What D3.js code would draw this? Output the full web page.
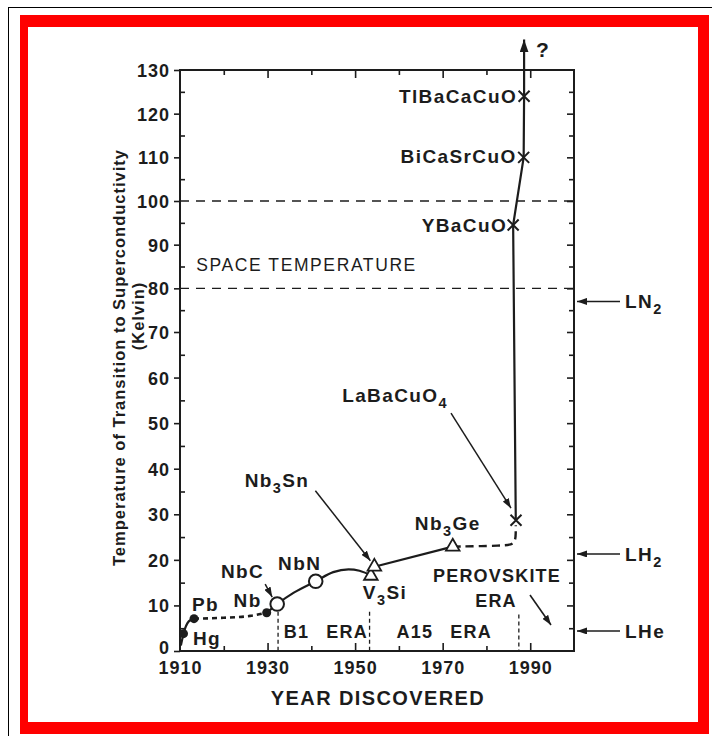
<!DOCTYPE html>
<html>
<head>
<meta charset="utf-8">
<script src="https://cdn.jsdelivr.net/npm/d3@7"></script>
<style>
  html, body { margin: 0; padding: 0; background: #fff; }
  svg { display: block; }
</style>
</head>
<body>
<svg id="chart" width="712" height="736"></svg>
<script>
// ---- Record superconductors: year of discovery and transition temperature (K)
const materials  = ["Hg", "Pb", "Nb", "NbC", "NbN", "V3Si", "Nb3Sn", "Nb3Ge", "LaBaCuO4", "YBaCuO", "BiCaSrCuO", "TlBaCaCuO"];
const yearFound  = [1910.8, 1913.2, 1929.8, 1932.2, 1941, 1953.6, 1954.4, 1972.3, 1986.75, 1986.1, 1988.5, 1988.6];
const tcKelvin   = [3.8, 7.1, 8.4, 10.3, 15.3, 16.5, 18.5, 22.9, 28.7, 94.5, 110, 124];
const markerKind = ["dot", "dot", "dot", "ring", "ring", "triangle", "triangle", "triangle", "cross", "cross", "cross", "cross"];

// ---- Trend of the record temperature: [year, K]
const trendMetals   = [[1910.2, 1.2], [1910.8, 3.8], [1912, 6.5], [1913.2, 7.1]];
const trendGapEarly = [[1913.2, 7.1], [1920, 7.3], [1926, 7.7], [1929.8, 8.4]];
const trendB1       = [[1929.8, 8.4], [1932.2, 10.3], [1936, 12.8], [1941, 15.3], [1945, 17.3], [1948.5, 17.9], [1951, 17.6], [1953.6, 16.6]];
const trendA15      = [[1954.4, 18.5], [1972.3, 22.9]];
const trendGapLate  = [[1972.3, 22.9], [1984, 23.1], [1986.6, 23.4], [1986.7, 26], [1986.7, 27.6]];
const trendCuprates = [[1986.7, 28.7], [1986.1, 94.5], [1988.5, 110], [1988.6, 124], [1988.6, 137]];

// ---- Reference temperatures
const spaceBand  = [80, 100];
const coolants   = ["LN2", "LH2", "LHe"];
const coolantK   = [77, 21.3, 4.4];

// ---- Eras of superconducting materials
const eraNames   = ["B1 ERA", "A15 ERA"];
const eraBounds  = [1932.4, 1953.3, 1987.4];
const eraTopK    = [8.6, 8.6, 8];

// ---- Axis ticks
const yLabelTicks = d3.range(0, 131, 10);
const yMinorTicks = d3.range(5, 130, 10);
const yRightTicks = d3.range(5, 130, 5);
const xLabelTicks = [1910, 1930, 1950, 1970, 1990];
const xTicks      = d3.range(1920, 2000, 10);

// ---------------------------------------------------------------
const ink  = "#1c1c1c";
const FONT = "'Liberation Sans', Arial, Helvetica, sans-serif";
const svg  = d3.select("#chart");
const defs = svg.append("defs");

// page frame
svg.append("rect").attr("x", 8.5).attr("y", 7.5).attr("width", 720).attr("height", 740)
  .attr("fill", "#fff").attr("stroke", "#000").attr("stroke-width", 1);
svg.append("rect").attr("x", 20).attr("y", 15).attr("width", 689).attr("height", 719).attr("fill", "#ff0000");
svg.append("rect").attr("x", 28).attr("y", 27).attr("width", 670).attr("height", 695).attr("fill", "#fff");

const plot = { left: 180, right: 574, top: 70, bottom: 651 };
const x = d3.scaleLinear().domain([1910, 2000]).range([plot.left, plot.right]);
// the printed temperature axis is stretched slightly below 70 K
const y = d3.scaleLinear().domain([0, 70, 130]).range([plot.bottom, 332, plot.top]);

function arrowMarker(id, len, wid) {
  defs.append("marker").attr("id", id)
    .attr("viewBox", `0 0 ${len} ${wid}`)
    .attr("refX", len).attr("refY", wid / 2)
    .attr("markerWidth", len).attr("markerHeight", wid)
    .attr("markerUnits", "userSpaceOnUse").attr("orient", "auto")
    .append("path").attr("d", `M0,0L${len},${wid / 2}L0,${wid}Z`).attr("fill", ink);
}
arrowMarker("headSmall", 10, 7);
arrowMarker("headBig", 13, 9);

function styleAxis(g) {
  g.select(".domain").remove();
  g.selectAll(".tick line").attr("stroke", ink).attr("stroke-width", 1.6);
  g.selectAll(".tick text").attr("fill", ink).attr("font-family", FONT)
    .attr("font-weight", "bold").attr("font-size", 18).attr("letter-spacing", 1);
}

// ---- axes
svg.append("g").attr("transform", `translate(${plot.left},0)`)
  .call(d3.axisLeft(y).tickValues(yLabelTicks).tickSize(6).tickPadding(4).tickFormat(d3.format("d")))
  .call(styleAxis)
  .selectAll(".tick text").attr("dy", d => d === 0 ? "0.12em" : "0.36em");
svg.append("g").attr("transform", `translate(${plot.left},0)`)
  .call(d3.axisRight(y).tickValues(yMinorTicks).tickSize(5).tickFormat(""))
  .call(styleAxis);
svg.append("g").attr("transform", `translate(${plot.right},0)`)
  .call(d3.axisLeft(y).tickValues(yRightTicks).tickFormat(""))
  .call(styleAxis)
  .selectAll(".tick line").attr("x2", d => d % 10 === 0 ? -7 : -5);
svg.append("g").attr("transform", `translate(0,${plot.bottom})`)
  .call(d3.axisTop(x).tickValues(xTicks).tickFormat(""))
  .call(styleAxis)
  .selectAll(".tick line").attr("y2", d => xLabelTicks.includes(d) ? -8 : -5);
svg.append("g").attr("transform", `translate(0,${plot.top})`)
  .call(d3.axisBottom(x).tickValues(xTicks).tickFormat(""))
  .call(styleAxis)
  .selectAll(".tick line").attr("y2", d => xLabelTicks.includes(d) ? 8 : 5);
svg.append("g").attr("transform", `translate(0,${plot.bottom})`)
  .call(d3.axisBottom(x).tickValues(xLabelTicks).tickSize(0).tickPadding(10).tickFormat(d3.format("d")))
  .call(styleAxis);

svg.append("rect")
  .attr("x", plot.left).attr("y", plot.top)
  .attr("width", plot.right - plot.left).attr("height", plot.bottom - plot.top)
  .attr("fill", "none").attr("stroke", ink).attr("stroke-width", 2);

// ---- axis titles
svg.append("text")
  .attr("transform", `translate(125,${(150 + 565) / 2}) rotate(-90)`)
  .attr("text-anchor", "middle").attr("font-family", FONT).attr("font-weight", "bold")
  .attr("font-size", 16.5).attr("letter-spacing", 1).attr("fill", ink)
  .text("Temperature of Transition to Superconductivity");
svg.append("text")
  .attr("transform", `translate(144,316) rotate(-90)`)
  .attr("text-anchor", "middle").attr("font-family", FONT).attr("font-weight", "bold")
  .attr("font-size", 16.5).attr("letter-spacing", 1).attr("fill", ink)
  .text("(Kelvin)");
svg.append("text")
  .attr("x", (plot.left + plot.right) / 2 + 1).attr("y", 705)
  .attr("text-anchor", "middle").attr("font-family", FONT).attr("font-weight", "bold")
  .attr("font-size", 20).attr("letter-spacing", 1.4).attr("fill", ink)
  .text("YEAR DISCOVERED");

// ---- space temperature band
svg.append("g").selectAll("line").data(spaceBand).join("line")
  .attr("x1", plot.left).attr("x2", plot.right)
  .attr("y1", d => y(d)).attr("y2", d => y(d))
  .attr("stroke", ink).attr("stroke-width", 1.3).attr("stroke-dasharray", "9 7");
svg.append("text")
  .attr("x", x(1913.7)).attr("y", y(85) + 4)
  .attr("font-family", FONT).attr("font-size", 17.5).attr("letter-spacing", 1.6).attr("fill", ink)
  .text("SPACE TEMPERATURE");

// ---- era boundaries and names
svg.append("g").selectAll("line").data(eraBounds).join("line")
  .attr("x1", d => x(d)).attr("x2", d => x(d))
  .attr("y1", (d, i) => y(eraTopK[i])).attr("y2", plot.bottom)
  .attr("stroke", ink).attr("stroke-width", 1.3).attr("stroke-dasharray", "4 3");
const eraText = svg.append("g").attr("font-family", FONT).attr("font-weight", "bold")
  .attr("font-size", 18).attr("letter-spacing", 1.2).attr("fill", ink);
eraNames.forEach((name, i) => {
  eraText.append("text")
    .attr("x", (x(eraBounds[i]) + x(eraBounds[i + 1])) / 2 + (i === 0 ? 2 : 0))
    .attr("y", 638).attr("text-anchor", "middle")
    .attr("word-spacing", 11)
    .text(name);
});
eraText.append("text").attr("x", 497).attr("y", 582).attr("text-anchor", "middle").text("PEROVSKITE");
eraText.append("text").attr("x", 496).attr("y", 607).attr("text-anchor", "middle").text("ERA");
svg.append("line")
  .attr("x1", 530).attr("y1", 595).attr("x2", 551).attr("y2", 625)
  .attr("stroke", ink).attr("stroke-width", 1.6).attr("marker-end", "url(#headSmall)");

// ---- trend line
const lineSmooth = d3.line().x(d => x(d[0])).y(d => y(d[1])).curve(d3.curveMonotoneX);
const lineBasis  = d3.line().x(d => x(d[0])).y(d => y(d[1])).curve(d3.curveBasis);
const lineStraight = d3.line().x(d => x(d[0])).y(d => y(d[1]));
const trend = svg.append("g").attr("fill", "none").attr("stroke", ink).attr("stroke-linecap", "butt");
trend.append("path").attr("d", lineSmooth(trendMetals)).attr("stroke-width", 2.2);
trend.append("path").attr("d", lineSmooth(trendGapEarly)).attr("stroke-width", 2.6).attr("stroke-dasharray", "5 4");
trend.append("path").attr("d", lineSmooth(trendB1)).attr("stroke-width", 2.2);
trend.append("path").attr("d", lineStraight(trendA15)).attr("stroke-width", 2.2);
trend.append("path").attr("d", lineBasis(trendGapLate)).attr("stroke-width", 2.4).attr("stroke-dasharray", "8 5");
trend.append("path").attr("d", lineStraight(trendCuprates)).attr("stroke-width", 2.2)
  .attr("marker-end", "url(#headBig)");
svg.append("text")
  .attr("x", x(trendCuprates[trendCuprates.length - 1][0]) + 12).attr("y", 57)
  .attr("font-family", FONT).attr("font-weight", "bold").attr("font-size", 21).attr("fill", ink)
  .text("?");

// ---- markers
const pts = materials.map((m, i) => ({ name: m, year: yearFound[i], k: tcKelvin[i], kind: markerKind[i] }));
const mk = svg.append("g");
pts.forEach(p => {
  const cx = x(p.year), cy = y(p.k);
  if (p.kind === "dot") {
    mk.append("circle").attr("cx", cx).attr("cy", cy).attr("r", 4.5).attr("fill", ink);
  } else if (p.kind === "ring") {
    mk.append("circle").attr("cx", cx).attr("cy", cy).attr("r", 6.8)
      .attr("fill", "#fff").attr("stroke", ink).attr("stroke-width", 2);
  } else if (p.kind === "triangle") {
    mk.append("path").attr("transform", `translate(${cx},${cy})`)
      .attr("d", d3.symbol(d3.symbolTriangle, 80)())
      .attr("fill", "#fff").attr("stroke", ink).attr("stroke-width", 1.8);
  } else {
    const s = 5.5;
    mk.append("path").attr("d", `M${cx - s},${cy - s}L${cx + s},${cy + s}M${cx - s},${cy + s}L${cx + s},${cy - s}`)
      .attr("stroke", ink).attr("stroke-width", 2).attr("fill", "none");
  }
});

// ---- material labels (digits are set as subscripts)
const labelPlacement = {
  Hg:        { dx: 9.5, dy: 11,  anchor: "start" },
  Pb:        { dx: -2,  dy: -8,  anchor: "start" },
  Nb:        { dx: -5,  dy: -6,  anchor: "end" },
  NbC:       { dx: -13, dy: -26, anchor: "end",   arrow: [[-12, -20], [-5, -7]] },
  NbN:       { dx: -16, dy: -11, anchor: "middle" },
  V3Si:      { dx: -8,  dy: 23,  anchor: "start" },
  Nb3Sn:     { dx: -65, dy: -80, anchor: "end",   arrow: [[-59, -76], [-4, -6]] },
  Nb3Ge:     { dx: -5,  dy: -17, anchor: "middle" },
  LaBaCuO4:  { dx: -68, dy: -118, anchor: "end",  arrow: [[-65, -107], [-5, -12]] },
  YBaCuO:    { dx: -6,  dy: 7,   anchor: "end" },
  BiCaSrCuO: { dx: -7,  dy: 6,   anchor: "end" },
  TlBaCaCuO: { dx: -7,  dy: 7,   anchor: "end" }
};

function chemText(sel, str) {
  const parts = str.match(/\d+|\D+/g);
  let low = false;
  parts.forEach(part => {
    const isDigit = /^\d+$/.test(part);
    const t = sel.append("tspan").text(part);
    if (isDigit) { t.attr("font-size", 14.5).attr("dy", low ? 0 : 6); low = true; }
    else if (low) { t.attr("dy", -6); low = false; }
  });
}

const labels = svg.append("g").attr("font-family", FONT).attr("font-weight", "bold")
  .attr("font-size", 19).attr("letter-spacing", 1.4).attr("fill", ink);
pts.forEach(p => {
  const L = labelPlacement[p.name];
  const cx = x(p.year), cy = y(p.k);
  const t = labels.append("text").attr("x", cx + L.dx).attr("y", cy + L.dy).attr("text-anchor", L.anchor);
  chemText(t, p.name);
  if (L.arrow) {
    svg.append("line")
      .attr("x1", cx + L.arrow[0][0]).attr("y1", cy + L.arrow[0][1])
      .attr("x2", cx + L.arrow[1][0]).attr("y2", cy + L.arrow[1][1])
      .attr("stroke", ink).attr("stroke-width", 1.5).attr("marker-end", "url(#headSmall)");
  }
});

// ---- coolant boiling points on the right
coolants.forEach((c, i) => {
  const cy = y(coolantK[i]);
  svg.append("line").attr("x1", plot.right + 46).attr("x2", plot.right + 3)
    .attr("y1", cy).attr("y2", cy)
    .attr("stroke", ink).attr("stroke-width", 1.6).attr("marker-end", "url(#headSmall)");
  const t = labels.append("text").attr("x", plot.right + 51).attr("y", cy + 7);
  chemText(t, c);
});
</script>
</body>
</html>
